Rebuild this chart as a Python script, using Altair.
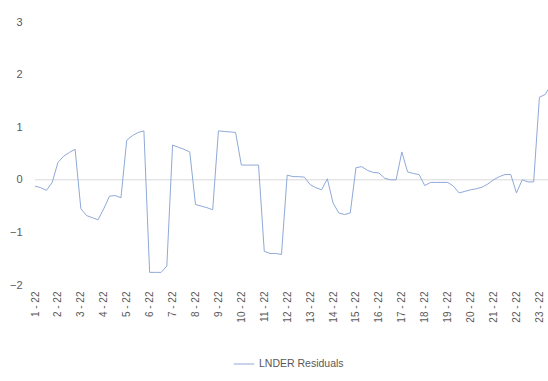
import altair as alt
import pandas as pd

# x-axis category labels (one every 4 observations)
tick_labels = ["1 - 22", "2 - 22", "3 - 22", "4 - 22", "5 - 22", "6 - 22", "7 - 22",
               "8 - 22", "9 - 22", "10 - 22", "11 - 22", "12 - 22", "13 - 22", "14 - 22",
               "15 - 22", "16 - 22", "17 - 22", "18 - 22", "19 - 22", "20 - 22",
               "21 - 22", "22 - 22", "23 - 22"]

# residual series (4 observations per label)
residuals = [
    -0.12, -0.15, -0.20, -0.05,
    0.33, 0.45, 0.52, 0.58,
    -0.55, -0.68, -0.72, -0.76,
    -0.55, -0.31, -0.30, -0.34,
    0.75, 0.84, 0.90, 0.93,
    -1.76, -1.76, -1.76, -1.64,
    0.66, 0.62, 0.58, 0.53,
    -0.47, -0.50, -0.53, -0.57,
    0.93, 0.92, 0.91, 0.90,
    0.28, 0.28, 0.28, 0.28,
    -1.36, -1.40, -1.40, -1.42,
    0.09, 0.06, 0.06, 0.05,
    -0.09, -0.15, -0.19, 0.02,
    -0.44, -0.63, -0.66, -0.63,
    0.23, 0.25, 0.18, 0.14,
    0.13, 0.03, 0.00, 0.00,
    0.53, 0.15, 0.12, 0.10,
    -0.11, -0.05, -0.05, -0.05,
    -0.05, -0.12, -0.25, -0.22,
    -0.19, -0.17, -0.14, -0.08,
    0.00, 0.06, 0.10, 0.10,
    -0.25, 0.00, -0.04, -0.04,
    1.57, 1.62, 1.80,
]

series_name = "LNDER Residuals"
y_ticks = [-2, -1, 0, 1, 2, 3]

df = pd.DataFrame({
    "idx": list(range(len(residuals))),
    "value": residuals,
    "series": [series_name] * len(residuals),
})

label_js = "[" + ",".join("'" + s + "'" for s in tick_labels) + "]"
tick_positions = [4 * i for i in range(len(tick_labels))]

FONT = "Liberation Sans"
TXT = "#595959"


def y_axis():
    return alt.Axis(
        values=y_ticks, labelFont=FONT, labelFontSize=11, labelColor=TXT,
        ticks=False, domain=False, grid=False, title=None, labelPadding=13,
    )


y_scale = alt.Scale(domain=[-2, 3], nice=False)

x_enc = alt.X(
    "idx:Q",
    scale=alt.Scale(domain=[0, 89.5], nice=False, zero=False),
    axis=alt.Axis(
        values=tick_positions,
        labelExpr=label_js + "[datum.value/4]",
        labelAngle=270,
        labelFont=FONT, labelFontSize=10, labelColor=TXT,
        labelPadding=6, ticks=False, domain=False, grid=False, title=None,
        labelOverlap=False, labelBound=False, labelFlush=False,
    ),
)

zero_line = alt.Chart(pd.DataFrame({"z": [0]})).mark_rule(
    color="#d9d9d9", strokeWidth=1
).encode(y=alt.Y("z:Q", scale=y_scale, axis=y_axis()))

line = alt.Chart(df).mark_line(strokeWidth=1, clip=True).encode(
    x=x_enc,
    y=alt.Y("value:Q", scale=y_scale, axis=y_axis()),
    color=alt.Color(
        "series:N",
        scale=alt.Scale(domain=[series_name], range=["#8fa9d8"]),
        legend=alt.Legend(
            title=None, orient="none", legendX=198, legendY=331,
            symbolType="stroke", symbolStrokeWidth=1, symbolSize=420,
            labelFont=FONT, labelFontSize=10.5, labelColor=TXT,
        ),
    ),
)

chart = alt.layer(zero_line, line).properties(
    width=513, height=263,
    background="white",
    autosize=alt.AutoSizeParams(type="none"),
    padding={"left": 35, "top": 22, "right": 0, "bottom": 96},
).configure_view(strokeWidth=0, stroke=None)

chart.save("out.html", embed_options={"renderer": "svg", "actions": False})
